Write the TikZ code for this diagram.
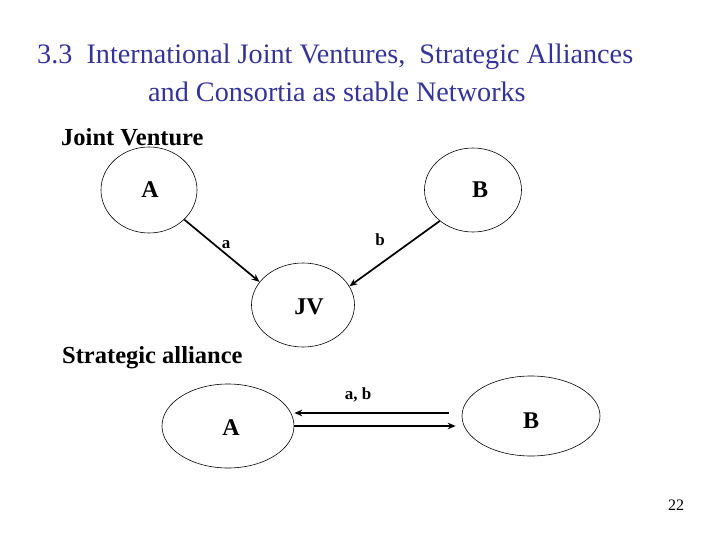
\documentclass[tikz,border=0pt]{standalone}
\usepackage{fontspec}
\setmainfont{Liberation Serif}
\usetikzlibrary{shapes.geometric,arrows.meta}
\definecolor{titleblue}{RGB}{51,51,153}
\begin{document}
\begin{tikzpicture}[x=1pt,y=-1pt,
  oval/.style={draw=black,line width=0.6pt,ellipse,inner sep=0pt},
  big/.style={font=\fontsize{24}{28}\selectfont\bfseries,inner sep=0pt},
  arr/.style={line width=1.7pt,-{Stealth[length=8pt,width=6.5pt]}},
  lbl/.style={font=\fontsize{17}{20}\selectfont\bfseries,inner sep=0pt},
  head/.style={font=\fontsize{24.5}{28}\selectfont\bfseries,anchor=base west,inner sep=0pt},
  title/.style={font=\fontsize{28.2}{32}\selectfont,text=titleblue,anchor=base west,inner sep=0pt}]
\useasboundingbox (0,0) rectangle (720,540);
% titles
\node[title] (t1) at (37,64) {3.3\ \ International Joint Ventures,\ \ Strategic Alliances};
\node[title] (t2) at (148,102) {and Consortia as stable Networks};
% Joint venture
\node[head] (jvh) at (61,146) {Joint Venture};
\node[oval,minimum width=96pt,minimum height=86pt] (A) at (149,190) {};
\node[big] (Al) at (150,190) {A};
\node[oval,minimum width=97pt,minimum height=84pt] (B) at (473,190) {};
\node[big] (Bl) at (480,190) {B};
\node[oval,minimum width=103pt,minimum height=84pt] (JV) at (303,305) {};
\node[big] (JVl) at (309,307) {JV};
\draw[arr] (A.-40) -- (JV.152);
\draw[arr] (B.-137) -- (JV.22);
\node[lbl] (la) at (226,245) {a};
\node[lbl] (lb) at (380,240) {b};
% Strategic alliance
\node[head] (sah) at (62,363) {Strategic alliance};
\node[oval,minimum width=132pt,minimum height=84pt] (A2) at (228,426) {};
\node[big] (A2l) at (231,428) {A};
\node[oval,minimum width=138pt,minimum height=80pt] (B2) at (531,416) {};
\node[big] (B2l) at (531,421) {B};
\draw[arr] ([xshift=-13pt,yshift=3pt]B2.west) -- ([yshift=13pt]A2.east);
\draw[arr] (A2.east) -- ([xshift=-6pt,yshift=-10pt]B2.west);
\node[lbl] (lab) at (358,395) {a, b};
\node[font=\fontsize{16}{18}\selectfont,inner sep=0pt] (pg) at (676,505) {22};
\end{tikzpicture}
\end{document}
